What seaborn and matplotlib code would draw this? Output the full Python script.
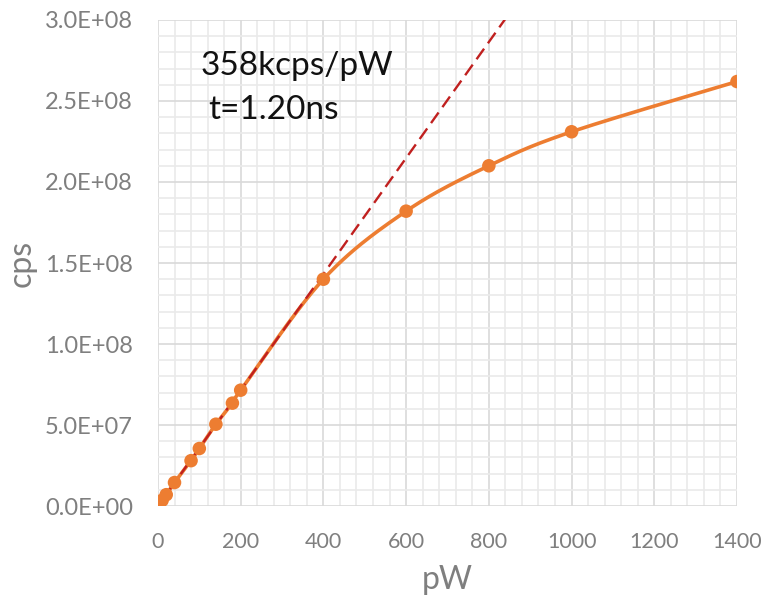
import numpy as np
import pandas as pd
import seaborn as sns
import matplotlib
matplotlib.use("Agg")
import matplotlib.pyplot as plt
from matplotlib.ticker import MultipleLocator, FuncFormatter

# measured points
power_pw = [10, 20, 40, 80, 100, 140, 180, 200, 400, 600, 800, 1000, 1400]
count_cps = [3.5e6, 7.0e6, 1.45e7, 2.8e7, 3.55e7, 5.05e7, 6.35e7, 7.15e7,
             1.40e8, 1.82e8, 2.10e8, 2.31e8, 2.62e8]

# linear fit from the low power region
slope_kcps_per_pw = 358
dead_time_ns = 1.20

ORANGE = "#ED7D31"
DARKRED = "#C0201F"
GREY = "#7F7F7F"


def smooth_curve(xs, ys, n=40):
    # excel style smoothed line (bezier, catmull-rom control points)
    p = np.column_stack([xs, ys]).astype(float)
    pts = np.vstack([p[0], p, p[-1]])
    t = np.linspace(0, 1, n)[:, None]
    out = []
    for i in range(1, len(pts) - 2):
        p0, p1, p2, p3 = pts[i - 1], pts[i], pts[i + 1], pts[i + 2]
        c1 = p1 + (p2 - p0) / 6
        c2 = p2 - (p3 - p1) / 6
        seg = ((1 - t) ** 3) * p1 + 3 * ((1 - t) ** 2) * t * c1 \
            + 3 * (1 - t) * t ** 2 * c2 + t ** 3 * p2
        out.append(seg if i == 1 else seg[1:])
    out = np.vstack(out)
    return out[:, 0], out[:, 1]


df = pd.DataFrame({"pW": power_pw, "cps": count_cps})
sx, sy = smooth_curve(df["pW"], df["cps"])
curve = pd.DataFrame({"pW": sx, "cps": sy})

sns.set_theme(style="white")
plt.rcParams["font.family"] = ["Lato", "DejaVu Sans"]

fig = plt.figure(figsize=(7.62, 5.98), dpi=100)
ax = fig.add_axes([0.2073, 0.1538, 0.7599, 0.8128])

fit_x = np.array([0, 1400])
fit_y = fit_x * slope_kcps_per_pw * 1e3

sns.lineplot(data=curve, x="pW", y="cps", ax=ax, color=ORANGE, lw=2.6,
             sort=False, zorder=3)
ax.plot(fit_x, fit_y, color=DARKRED, lw=1.7, dashes=(5.5, 2.8), zorder=4)
sns.scatterplot(data=df, x="pW", y="cps", ax=ax, color=ORANGE, s=95,
                edgecolor="none", zorder=5)

ax.set_xlim(0, 1400)
ax.set_ylim(0, 3.0e8)
ax.xaxis.set_major_locator(MultipleLocator(200))
ax.xaxis.set_minor_locator(MultipleLocator(40))
ax.yaxis.set_major_locator(MultipleLocator(5e7))
ax.yaxis.set_minor_locator(MultipleLocator(1e7))
ax.yaxis.set_major_formatter(FuncFormatter(lambda v, _: "{:.1E}".format(v)))

ax.grid(which="major", color="#D9D9D9", lw=1.2)
ax.grid(which="minor", color="#EAEAEA", lw=1.2)
ax.set_axisbelow(True)
for s in ax.spines.values():
    s.set_visible(False)

ax.tick_params(which="both", length=0)
ax.tick_params(axis="x", pad=19, labelsize=15.5, labelcolor=GREY)
ax.tick_params(axis="y", pad=18, labelsize=17, labelcolor=GREY)

ax.set_xlabel("pW", fontsize=23, color=GREY, labelpad=9)
ax.set_ylabel("cps", fontsize=23, color=GREY, labelpad=6)

ax.text(0.073, 0.905, "{}kcps/pW".format(slope_kcps_per_pw),
        transform=ax.transAxes, fontsize=24, color="#111111", va="center")
ax.text(0.087, 0.815, "t={:.2f}ns".format(dead_time_ns),
        transform=ax.transAxes, fontsize=24, color="#111111", va="center")

plt.savefig("out.png", dpi=100)
